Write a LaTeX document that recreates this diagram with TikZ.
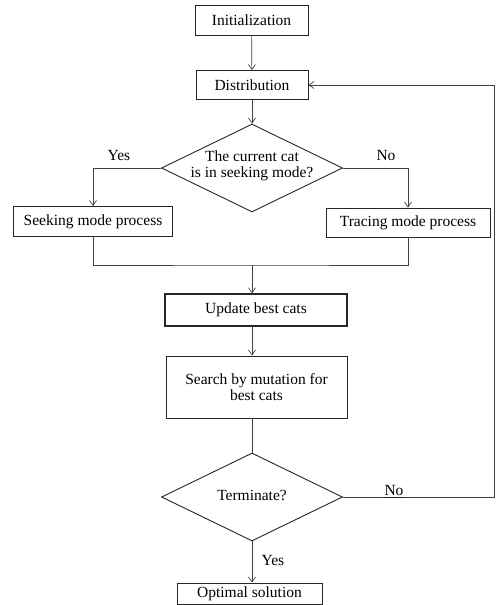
\documentclass[tikz,border=0pt]{standalone}
\usepackage{fontspec}
\setmainfont{Liberation Serif}
\usetikzlibrary{shapes.geometric,arrows.meta,calc}
\begin{document}
\begin{tikzpicture}[x=1pt,y=-1pt,
  font=\fontsize{15.5}{16}\selectfont,
  box/.style={draw=black!85,line width=0.9pt,rectangle,inner sep=0pt,align=center},
  dec/.style={draw=black!85,line width=0.9pt,diamond,inner sep=0pt,minimum width=181pt,minimum height=88pt},
  conn/.style={draw=black!75,line width=0.7pt},
  arr/.style={conn,-{Straight Barb[length=5pt,width=7pt]}},
  lbl/.style={inner sep=1pt}]
\useasboundingbox (0,0) rectangle (496,605);
\node[box,minimum width=113pt,minimum height=30pt] (init) at (251.5,20) {Initialization};
\node[box,minimum width=112pt,minimum height=29pt] (dist) at (252,85) {Distribution};
\node[dec] (dec1) at (252,168) {};
\node[align=center,inner sep=0pt] (dec1t) at (252,166) {The current cat\\is in seeking mode?};
\node[box,minimum width=159pt,minimum height=30pt] (seek) at (93,221.5) {Seeking mode process};
\node[box,minimum width=164pt,minimum height=29pt] (trace) at (408,222.5) {Tracing mode process};
\node[box,line width=1.3pt,minimum width=182pt,minimum height=32pt] (update) at (256,310) {Update best cats};
\node[box,minimum width=181pt,minimum height=62pt] (search) at (256.5,387) {Search by mutation for\\best cats};
\node[dec] (dec2) at (252,497) {};
\node[inner sep=0pt] (dec2t) at (252,495) {Terminate?};
\node[box,minimum width=145pt,minimum height=21pt] (opt) at (249.5,593.5) {Optimal solution};
\coordinate (merge) at (252,265);
\coordinate (corner) at (494.5,497);
\node[lbl] (yes1) at (119,155) {Yes};
\node[lbl] (no1) at (386,155) {No};
\node[lbl,anchor=south] (no2) at (394,497.3) {No};
\node[lbl] (yes2) at (273,560) {Yes};
\draw[arr] (init) -- (dist);
\draw[arr] (dist) -- (dec1);
\draw[arr] (dec1.west) -| (seek.north);
\draw[arr] (dec1.east) -| (trace.north);
\draw[conn] (seek.south) |- (merge) -| (trace.south);
\draw[arr] (merge) -- (merge |- update.north);
\draw[arr] (dec1.north |- update.south) -- (dec1.north |- search.north);
\draw[conn] (dec1.north |- search.south) -- (dec2.north);
\draw[arr] (dec2.south) -- (dec2.south |- opt.north);
\draw[arr] (dec2.east) -- (corner) |- (dist.east);
\draw[black!85,line width=1.6pt] (no2.south west) -- (no2.south east);
\end{tikzpicture}
\end{document}
